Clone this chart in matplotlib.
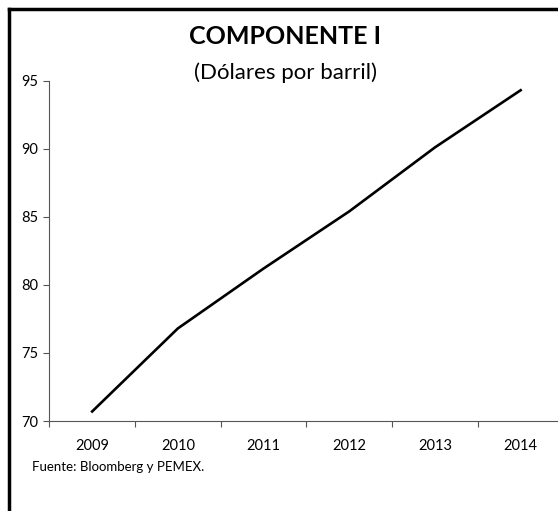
import matplotlib.pyplot as plt
from matplotlib.lines import Line2D
import numpy as np

# datos
years = ['2009', '2010', '2011', '2012', '2013', '2014']
precio = [70.7, 76.8, 81.2, 85.4, 90.1, 94.3]

plt.rcParams['font.family'] = ['Lato', 'DejaVu Sans']

W, H = 558, 511
fig = plt.figure(figsize=(W / 100, H / 100), dpi=100)

# marco exterior grueso (solo se ven arriba e izquierda)
fig.add_artist(Line2D([9 / W, 1.05], [1 - 9 / H, 1 - 9 / H], color='black', lw=2.5))
fig.add_artist(Line2D([9 / W, 9 / W], [-0.05, 1 - 9 / H], color='black', lw=2.5))

ax = fig.add_axes([49.3 / W, (H - 421) / H, (563.5 - 49.3) / W, (421 - 80.7) / H])
x = np.arange(len(years))
ax.plot(x, precio, color='black', lw=1.9)

ax.set_ylim(70, 95)
ax.set_yticks([70, 75, 80, 85, 90, 95])
ax.set_xlim(-0.5, len(years) - 0.5)
ax.set_xticks(np.arange(-0.5, len(years)), labels=[])
ax.set_xticks(x, labels=years, minor=True)
ax.tick_params(axis='x', which='minor', length=0, pad=13, labelsize=10.5)
ax.tick_params(axis='x', which='major', length=4, width=0.8, color='#555555')
ax.tick_params(axis='y', length=4, width=0.8, color='#555555', labelsize=10.5, pad=4)

for s in ['top', 'right']:
    ax.spines[s].set_visible(False)
for s in ['left', 'bottom']:
    ax.spines[s].set_color('#555555')
    ax.spines[s].set_linewidth(0.8)
ax.patch.set_alpha(0)

fig.text(285 / W, 1 - 37 / H, 'COMPONENTE I', ha='center', va='center',
         fontsize=18, fontweight='bold')
fig.text(285 / W, 1 - 73 / H, '(Dólares por barril)', ha='center', va='center',
         fontsize=16)
fig.text(32 / W, 1 - 467 / H, 'Fuente: Bloomberg y PEMEX.', ha='left', va='center',
         fontsize=9.5)

fig.savefig('out.png', dpi=100)
